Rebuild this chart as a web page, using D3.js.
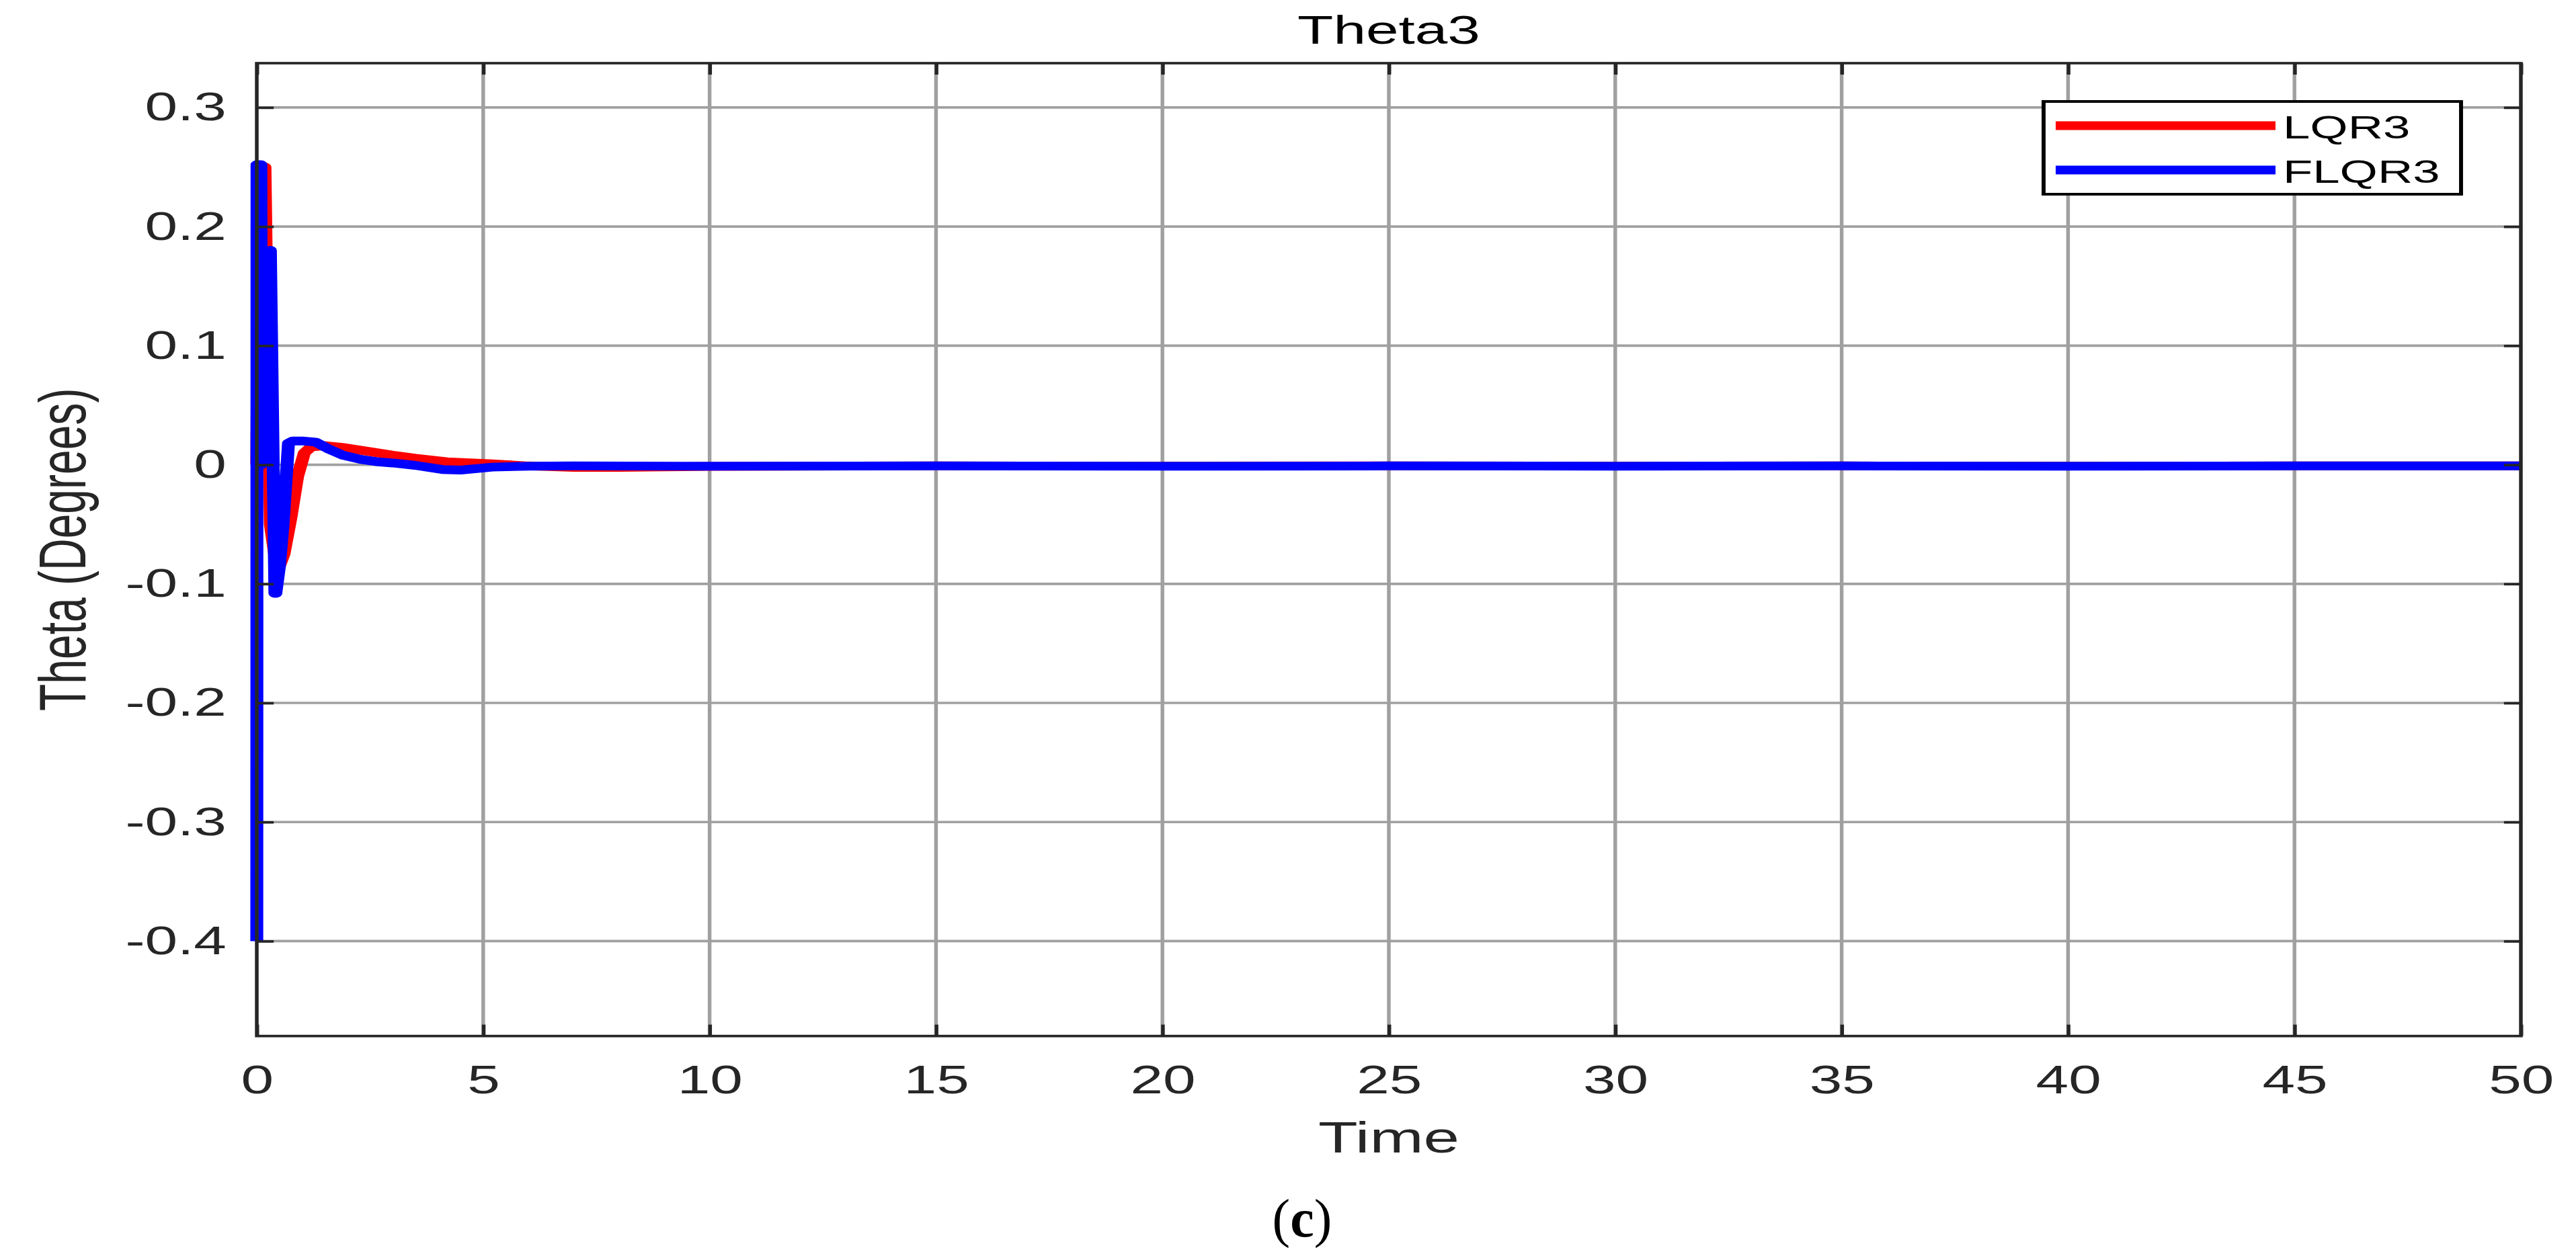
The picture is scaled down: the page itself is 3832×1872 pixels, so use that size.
<!DOCTYPE html>
<html>
<head>
<meta charset="utf-8">
<script src="https://cdn.jsdelivr.net/npm/d3@7"></script>
<style>
  html, body { margin: 0; padding: 0; background: #ffffff; }
  svg { display: block; }
</style>
</head>
<body>
<svg id="chart" width="3832" height="1872"></svg>
<script>
// ---------------- data ----------------
const chartTitle = "Theta3";
const xLabel = "Time";
const yLabel = "Theta (Degrees)";
const caption = "c";
const seriesNames = ["LQR3", "FLQR3"];
const seriesColors = ["#ff0000", "#0000ff"];

const xTicks = [0, 5, 10, 15, 20, 25, 30, 35, 40, 45, 50];
const xTickLabels = ["0", "5", "10", "15", "20", "25", "30", "35", "40", "45", "50"];
const yTicks = [-0.4, -0.3, -0.2, -0.1, 0, 0.1, 0.2, 0.3];
const yTickLabels = ["-0.4", "-0.3", "-0.2", "-0.1", "0", "0.1", "0.2", "0.3"];

// LQR3 (red)
const lqrTime  = [0, 0.05, 0.18, 0.21, 0.3, 0.45, 0.6, 0.75, 0.9, 1.05, 1.2, 1.5, 1.9, 2.5, 3.0, 3.5, 4.2, 5.2, 6, 7, 8, 9, 10, 15, 20, 25, 30, 35, 40, 45, 50];
const lqrTheta = [0, 0.25, 0.25, 0.17, -0.05, -0.09, -0.075, -0.045, -0.01, 0.01, 0.015, 0.016, 0.0145, 0.011, 0.008, 0.0055, 0.0025, 0.0008, -0.001, -0.0022, -0.0022, -0.0018, -0.0014, -0.001, -0.0011, -0.001, -0.0011, -0.001, -0.0011, -0.001, -0.001];

// FLQR3 (blue)
const flqrTime  = [0, 0.005, 0.09, 0.1, 0.3, 0.4, 0.42, 0.5, 0.58, 0.7, 0.8, 1.0, 1.3, 1.6, 1.9, 2.3, 2.64, 3.0, 3.5, 4.1, 4.5, 5.2, 6, 7, 10, 15, 20, 25, 30, 35, 40, 45, 50];
const flqrTheta = [-0.40, 0.252, 0.252, 0.0, 0.18, -0.108, -0.108, -0.085, -0.05, 0.018, 0.02, 0.02, 0.019, 0.013, 0.008, 0.0045, 0.0026, 0.0015, -0.0005, -0.004, -0.0045, -0.002, -0.0012, -0.001, -0.0012, -0.001, -0.0012, -0.001, -0.0012, -0.001, -0.0012, -0.001, -0.001];

// ---------------- layout ----------------
const SX = 1.48;              // the figure is stretched horizontally
const plotL = 382 / SX, plotR = 3750 / SX, plotT = 94, plotB = 1541.7;
const FONT = "'Liberation Sans', Arial, Helvetica, sans-serif";
const AXC = "#262626", GRIDC = "#a0a0a0";
const LW = 3.7, TICK = 17;

const svg = d3.select("#chart");
svg.append("rect").attr("width", 3832).attr("height", 1872).attr("fill", "#ffffff");

const g = svg.append("g").attr("transform", `scale(${SX},1)`);

const x = d3.scaleLinear().domain([0, 50]).range([plotL, plotR]);
const y = d3.scaleLinear().domain([-0.4797, 0.3372]).range([plotB, plotT]);

// grid
const grid = g.append("g");
grid.selectAll("line.vg").data(xTicks.filter(d => d > 0 && d < 50)).enter().append("line")
  .attr("x1", d => x(d)).attr("x2", d => x(d)).attr("y1", plotT).attr("y2", plotB)
  .attr("stroke", GRIDC).attr("stroke-width", LW);
grid.selectAll("line.hg").data(yTicks).enter().append("line")
  .attr("x1", plotL).attr("x2", plotR).attr("y1", d => y(d)).attr("y2", d => y(d))
  .attr("stroke", GRIDC).attr("stroke-width", LW);

// series
const line = d3.line().x(d => x(d[0])).y(d => y(d[1]));
const lqrData = lqrTime.map((t, i) => [t, lqrTheta[i]]);
const flqrData = flqrTime.map((t, i) => [t, flqrTheta[i]]);
[lqrData, flqrData].forEach((data, i) => {
  g.append("path").datum(data).attr("d", line)
    .attr("fill", "none").attr("stroke", seriesColors[i])
    .attr("stroke-width", 13).attr("stroke-linejoin", "round").attr("stroke-linecap", "butt");
});

// axes (ticks inward on all four sides)
function styleAxis(sel) {
  sel.select(".domain").remove();
  sel.selectAll(".tick line").attr("stroke", AXC).attr("stroke-width", LW);
  sel.selectAll(".tick text").attr("fill", AXC).attr("font-family", FONT).attr("font-size", 59);
  sel.attr("font-family", FONT).attr("font-size", 59);
}
const xb = g.append("g").attr("transform", `translate(0,${plotB})`)
  .call(d3.axisBottom(x).tickValues(xTicks).tickSize(-TICK).tickPadding(43)
    .tickFormat((d, i) => xTickLabels[i]));
styleAxis(xb);
const xt = g.append("g").attr("transform", `translate(0,${plotT})`)
  .call(d3.axisTop(x).tickValues(xTicks).tickSize(-TICK).tickFormat(""));
styleAxis(xt);
const yl = g.append("g").attr("transform", `translate(${plotL},0)`)
  .call(d3.axisLeft(y).tickValues(yTicks).tickSize(-TICK).tickPadding(30.5)
    .tickFormat((d, i) => yTickLabels[i]));
styleAxis(yl);
const yr = g.append("g").attr("transform", `translate(${plotR},0)`)
  .call(d3.axisRight(y).tickValues(yTicks).tickSize(-TICK).tickFormat(""));
styleAxis(yr);

// box
g.append("rect").attr("x", plotL).attr("y", plotT)
  .attr("width", plotR - plotL).attr("height", plotB - plotT)
  .attr("fill", "none").attr("stroke", AXC).attr("stroke-width", LW);

// titles
g.append("text").attr("x", (plotL + plotR) / 2).attr("y", 65)
  .attr("text-anchor", "middle").attr("font-family", FONT).attr("font-size", 59)
  .attr("fill", "#000").text(chartTitle);
g.append("text").attr("x", (plotL + plotR) / 2).attr("y", 1715)
  .attr("text-anchor", "middle").attr("font-family", FONT).attr("font-size", 65)
  .attr("fill", AXC).text(xLabel);
g.append("text").attr("transform", `translate(${127 / SX},${(plotT + plotB) / 2}) rotate(-90)`)
  .attr("text-anchor", "middle").attr("font-family", FONT).attr("font-size", 66)
  .attr("fill", AXC).text(yLabel);

// legend
const lg = g.append("g");
lg.append("rect").attr("x", 3040 / SX).attr("y", 151)
  .attr("width", (3661 - 3040) / SX).attr("height", 138)
  .attr("fill", "#fff").attr("stroke", "#000").attr("stroke-width", 4);
const legY = [187, 253];
seriesNames.forEach((name, i) => {
  lg.append("line").attr("x1", 3058 / SX).attr("x2", 3385 / SX)
    .attr("y1", legY[i]).attr("y2", legY[i])
    .attr("stroke", seriesColors[i]).attr("stroke-width", 13);
  lg.append("text").attr("x", 3396 / SX).attr("y", legY[i] + 19)
    .attr("font-family", FONT).attr("font-size", 49).attr("fill", "#000").text(name);
});

// caption (not stretched)
const cap = svg.append("text").attr("x", 1937).attr("y", 1840)
  .attr("text-anchor", "middle").attr("font-family", "'Liberation Serif', 'Times New Roman', serif")
  .attr("font-size", 80).attr("fill", "#000");
cap.append("tspan").text("(");
cap.append("tspan").attr("font-weight", "bold").text(caption);
cap.append("tspan").text(")");
</script>
</body>
</html>
